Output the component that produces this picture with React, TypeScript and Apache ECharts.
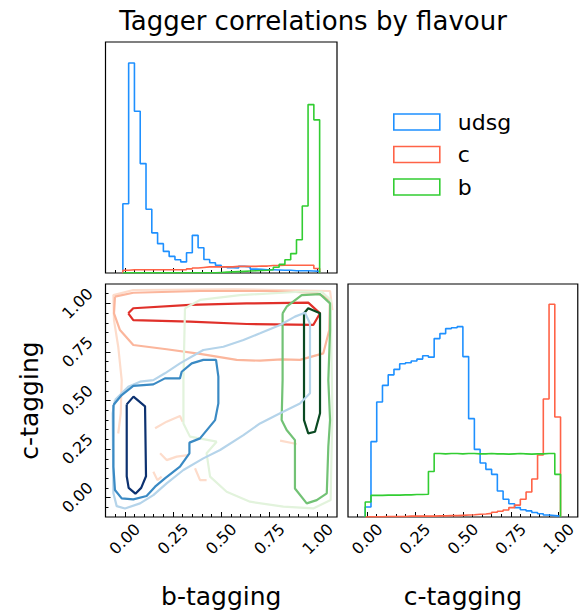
import React, { useEffect, useRef } from 'react';
import * as echarts from 'echarts';

// ---------- 1D histogram data (density, 34 bins) ----------
const BIN_START = -0.01;
const BIN_WIDTH = 0.03;

const bTagUdsg = [2.50, 7.58, 5.84, 3.95, 2.30, 1.45, 1.06, 0.78, 0.60, 0.48, 0.40, 0.73, 1.36, 0.91, 0.49, 0.37, 0.28, 0.22, 0.19, 0.18, 0.24, 0.22, 0.14, 0.13, 0.12, 0.12, 0.11, 0.10, 0.10, 0.08, 0.08, 0.08, 0.07, 0.06];
const bTagC = [0.10, 0.12, 0.12, 0.12, 0.12, 0.12, 0.12, 0.12, 0.12, 0.12, 0.12, 0.15, 0.18, 0.20, 0.22, 0.22, 0.22, 0.22, 0.22, 0.24, 0.24, 0.24, 0.24, 0.25, 0.25, 0.27, 0.27, 0.28, 0.28, 0.28, 0.28, 0.28, 0.28, 0.16];
const bTagB = [0.01, 0.01, 0.01, 0.01, 0.01, 0.01, 0.01, 0.01, 0.01, 0.01, 0.01, 0.01, 0.01, 0.01, 0.01, 0.01, 0.02, 0.03, 0.04, 0.05, 0.06, 0.07, 0.08, 0.09, 0.10, 0.12, 0.21, 0.31, 0.48, 0.70, 1.20, 2.42, 6.08, 5.53];

const cTagUdsg = [0.36, 2.72, 4.15, 4.75, 5.13, 5.33, 5.53, 5.57, 5.63, 5.70, 5.82, 5.77, 6.44, 6.62, 6.80, 6.83, 6.87, 5.79, 3.55, 2.44, 1.95, 1.72, 1.54, 0.94, 0.64, 0.48, 0.34, 0.26, 0.22, 0.16, 0.12, 0.07, 0.05, 0.03];
const cTagC = [0.01, 0.01, 0.01, 0.02, 0.02, 0.02, 0.02, 0.03, 0.03, 0.03, 0.03, 0.03, 0.04, 0.04, 0.05, 0.05, 0.06, 0.07, 0.08, 0.10, 0.11, 0.13, 0.17, 0.21, 0.25, 0.34, 0.43, 0.64, 0.90, 1.37, 2.24, 4.26, 7.68, 3.61];
const cTagB = [0.54, 0.78, 0.78, 0.79, 0.79, 0.79, 0.80, 0.80, 0.81, 0.81, 0.82, 1.64, 2.29, 2.28, 2.29, 2.29, 2.28, 2.29, 2.29, 2.28, 2.28, 2.29, 2.28, 2.28, 2.27, 2.28, 2.29, 2.28, 2.27, 2.28, 2.28, 2.29, 2.29, 1.54];

// ---------- 2D contour lines (x = b-tagging, y = c-tagging) ----------
const udsgInner = [[0.01, 0.48], [0.045, 0.52], [0.105, 0.47], [0.11, 0.11], [0.085, 0.05], [0.055, 0.02], [0.02, 0.05], [0.01, 0.11], [0.01, 0.48]];
const udsgMid = [[-0.059, 0.477], [-0.016, 0.528], [0.044, 0.575], [0.148, 0.583], [0.208, 0.614], [0.286, 0.614], [0.295, 0.648], [0.347, 0.691], [0.407, 0.709], [0.473, 0.709], [0.485, 0.623], [0.485, 0.485], [0.468, 0.399], [0.39, 0.305], [0.335, 0.283], [0.335, 0.228], [0.286, 0.159], [0.208, 0.099], [0.157, 0.056], [0.113, 0.008], [0.044, -0.009], [-0.016, -0.004], [-0.051, 0.039], [-0.059, 0.159], [-0.059, 0.477]];
const udsgOuter = [[-0.051, 0.502], [0.018, 0.571], [0.079, 0.597], [0.148, 0.605], [0.208, 0.64], [0.286, 0.691], [0.407, 0.76], [0.511, 0.777], [0.615, 0.812], [0.701, 0.846], [0.805, 0.889], [0.882, 0.932], [0.934, 0.952], [0.96, 0.897], [0.96, 0.537], [0.908, 0.485], [0.805, 0.434], [0.701, 0.382], [0.615, 0.322], [0.494, 0.245], [0.407, 0.202], [0.304, 0.142], [0.217, 0.073], [0.148, 0.013], [0.079, -0.03], [0.001, -0.056], [-0.042, -0.044], [-0.059, 0.022], [-0.063, 0.434], [-0.051, 0.502]];

const cInner = [[0.018, 0.949], [0.044, 0.975], [0.338, 0.992], [0.632, 1.0], [0.951, 1.004], [1.012, 0.949], [0.977, 0.889], [0.632, 0.894], [0.338, 0.906], [0.044, 0.914], [0.018, 0.949]];
const cMid = [[-0.051, 1.035], [0.044, 1.055], [0.39, 1.064], [0.736, 1.064], [0.995, 1.055], [1.064, 1.018], [1.06, 0.863], [1.029, 0.743], [0.908, 0.709], [0.813, 0.712], [0.701, 0.705], [0.58, 0.709], [0.39, 0.74], [0.217, 0.764], [0.044, 0.786], [-0.025, 0.863], [-0.056, 0.949], [-0.051, 1.035]];
const cOuterMain = [[-0.034, 0.33], [-0.021, 0.434], [-0.016, 0.605], [-0.034, 0.777], [-0.056, 0.914], [-0.059, 1.043], [0.044, 1.069], [0.563, 1.073], [1.064, 1.064], [1.076, 0.966]];
const cOuterPiece1 = [[0.157, 0.357], [0.217, 0.391], [0.286, 0.42], [0.3, 0.391]];
const cOuterPiece2 = [[0.183, 0.228], [0.217, 0.193], [0.269, 0.211], [0.329, 0.219]];
const cOuterPiece3 = [[0.148, 0.133], [0.169, 0.09], [0.191, 0.108]];
const cOuterPiece4 = [[0.364, 0.151], [0.39, 0.09], [0.424, 0.09]];
const cOuterPiece5 = [[0.805, 0.293], [0.891, 0.276]];

const bInner = [[0.929, 0.949], [0.951, 0.975], [1.012, 0.949], [1.012, 0.434], [0.986, 0.339], [0.951, 0.331], [0.929, 0.399], [0.929, 0.949]];
const bMid = [[0.818, 0.949], [0.839, 0.983], [0.917, 1.043], [1.012, 1.048], [1.064, 1.0], [1.064, 0.863], [1.055, 0.605], [1.064, 0.399], [1.055, 0.262], [1.047, 0.022], [0.995, -0.013], [0.943, -0.03], [0.882, 0.047], [0.882, 0.296], [0.839, 0.348], [0.813, 0.399], [0.818, 0.605], [0.818, 0.949]];
const bOuter = [[0.312, 0.975], [0.39, 1.018], [0.597, 1.043], [0.908, 1.06], [1.021, 1.06], [1.067, 1.018], [1.076, 0.434], [1.067, -0.013], [0.977, -0.056], [0.822, -0.047], [0.649, -0.021], [0.528, 0.03], [0.442, 0.108], [0.424, 0.228], [0.476, 0.288], [0.338, 0.314], [0.304, 0.382], [0.304, 0.605], [0.312, 0.975]];

// ---------- ticks ----------
const majorTicks = [0, 0.25, 0.5, 0.75, 1.0];
const minorTicks = [-0.05, 0.05, 0.1, 0.15, 0.2, 0.3, 0.35, 0.4, 0.45, 0.55, 0.6, 0.65, 0.7, 0.8, 0.85, 0.9, 0.95, 1.05];

const COLORS = { udsg: '#1E90FF', c: '#FF6347', b: '#32CD32' };
const FONT = 'DejaVu Sans';

function stepPoints(vals: number[]) {
  const pts: number[][] = [];
  const edge = (i: number) => +(BIN_START + i * BIN_WIDTH).toFixed(4);
  pts.push([edge(0), 0]);
  vals.forEach((v, i) => {
    pts.push([edge(i), v]);
    pts.push([edge(i + 1), v]);
  });
  pts.push([edge(vals.length), 0]);
  return pts;
}

const noLine = { show: false, onZero: false };

function xAxisPair(gridIndex: number, withLabels: boolean, name?: string) {
  const base = {
    type: 'value', gridIndex, min: -0.1, max: 1.1, position: 'bottom',
    axisLine: noLine, splitLine: { show: false },
  };
  return [
    {
      ...base,
      name: name || '',
      nameLocation: 'middle',
      nameGap: 79,
      nameTextStyle: { fontSize: 25, fontFamily: FONT, color: '#000', verticalAlign: 'middle' },
      axisTick: { show: true, inside: true, length: 5, customValues: majorTicks, lineStyle: { color: '#000', width: 1 } },
      axisLabel: withLabels ? {
        show: true, customValues: majorTicks, rotate: 45, align: 'center', verticalAlign: 'middle', margin: 22,
        fontSize: 16, fontFamily: FONT, color: '#000', formatter: (v: number) => v.toFixed(2),
      } : { show: false },
    },
    {
      ...base,
      axisTick: { show: true, inside: true, length: 3, customValues: minorTicks, lineStyle: { color: '#000', width: 1 } },
      axisLabel: { show: false },
    },
  ];
}

function histSeries(name: string, vals: number[], color: string, xi: number, yi: number) {
  return {
    type: 'line', name, xAxisIndex: xi, yAxisIndex: yi, data: stepPoints(vals),
    showSymbol: false, symbol: 'none', lineStyle: { color, width: 1.6 }, itemStyle: { color },
    silent: true, z: 3,
  };
}

function contourSeries(name: string, pts: number[][], color: string, width = 2.2) {
  return {
    type: 'line', name, xAxisIndex: 2, yAxisIndex: 1, data: pts,
    showSymbol: false, symbol: 'none', lineStyle: { color, width }, itemStyle: { color },
    silent: true, z: 3,
  };
}

export default function App() {
  const ref = useRef<HTMLDivElement>(null);
  useEffect(() => {
    const chart = echarts.init(ref.current!, null, { renderer: 'svg' });
    const option: any = {
      animation: false,
      backgroundColor: '#fff',
      title: {
        text: 'Tagger correlations by flavour',
        left: 308, top: 3, textAlign: 'center',
        textStyle: { fontSize: 26, fontWeight: 'normal', fontFamily: FONT, color: '#000' },
      },
      legend: {
        orient: 'vertical', left: 388, top: 106, itemWidth: 46, itemHeight: 16, itemGap: 10.5,
        icon: 'rect',
        textStyle: { fontSize: 22, fontFamily: FONT, color: '#000', padding: [0, 0, 0, 13] },
        data: [
          { name: 'udsg', itemStyle: { color: '#fff', borderColor: COLORS.udsg, borderWidth: 1.6 } },
          { name: 'c', itemStyle: { color: '#fff', borderColor: COLORS.c, borderWidth: 1.6 } },
          { name: 'b', itemStyle: { color: '#fff', borderColor: COLORS.b, borderWidth: 1.6 } },
        ],
      },
      grid: [
        { left: 105.5, top: 42, width: 231.5, height: 231, show: true, borderColor: '#000', borderWidth: 1.2, backgroundColor: 'transparent' },
        { left: 105.5, top: 284, width: 231.5, height: 233, show: true, borderColor: '#000', borderWidth: 1.2, backgroundColor: 'transparent' },
        { left: 348, top: 284, width: 231.5, height: 233, show: true, borderColor: '#000', borderWidth: 1.2, backgroundColor: 'transparent' },
      ],
      xAxis: [
        ...xAxisPair(0, false),
        ...xAxisPair(1, true, 'b-tagging'),
        ...xAxisPair(2, true, 'c-tagging'),
      ],
      yAxis: [
        { type: 'value', gridIndex: 0, min: 0, max: 8.34, show: false, axisLine: noLine, splitLine: { show: false } },
        {
          type: 'value', gridIndex: 1, min: -0.1, max: 1.1, position: 'left',
          name: 'c-tagging', nameLocation: 'middle', nameGap: 76,
          nameTextStyle: { fontSize: 25, fontFamily: FONT, color: '#000', verticalAlign: 'middle' },
          axisLine: noLine, splitLine: { show: false },
          axisTick: { show: true, inside: true, length: 5, customValues: majorTicks, lineStyle: { color: '#000', width: 1 } },
          axisLabel: {
            show: true, customValues: majorTicks, rotate: 45, align: 'center', verticalAlign: 'middle', margin: 28,
            fontSize: 16, fontFamily: FONT, color: '#000', formatter: (v: number) => v.toFixed(2),
          },
        },
        {
          type: 'value', gridIndex: 1, min: -0.1, max: 1.1, position: 'left',
          axisLine: noLine, splitLine: { show: false },
          axisTick: { show: true, inside: true, length: 3, customValues: minorTicks, lineStyle: { color: '#000', width: 1 } },
          axisLabel: { show: false },
        },
        { type: 'value', gridIndex: 2, min: 0, max: 8.41, show: false, axisLine: noLine, splitLine: { show: false } },
      ],
      series: [
        histSeries('udsg', bTagUdsg, COLORS.udsg, 0, 0),
        histSeries('c', bTagC, COLORS.c, 0, 0),
        histSeries('b', bTagB, COLORS.b, 0, 0),
        histSeries('udsg', cTagUdsg, COLORS.udsg, 4, 3),
        histSeries('c', cTagC, COLORS.c, 4, 3),
        histSeries('b', cTagB, COLORS.b, 4, 3),
        contourSeries('c outer', cOuterMain, '#FDDCCB'),
        contourSeries('c outer 1', cOuterPiece1, '#FDDCCB'),
        contourSeries('c outer 2', cOuterPiece2, '#FDDCCB'),
        contourSeries('c outer 3', cOuterPiece3, '#FDDCCB'),
        contourSeries('c outer 4', cOuterPiece4, '#FDDCCB'),
        contourSeries('c outer 5', cOuterPiece5, '#FDDCCB'),
        contourSeries('c mid', cMid, '#FBB69C'),
        contourSeries('c inner', cInner, '#E0302A'),
        contourSeries('b outer', bOuter, '#E2F3DC'),
        contourSeries('b mid', bMid, '#72C275'),
        contourSeries('b inner', bInner, '#0A4A22'),
        contourSeries('udsg outer', udsgOuter, '#B5D4EA'),
        contourSeries('udsg mid', udsgMid, '#3A8AC4'),
        contourSeries('udsg inner', udsgInner, '#0C3170'),
      ],
    };
    chart.setOption(option);
    return () => chart.dispose();
  }, []);
  return <div ref={ref} style={{ position: 'absolute', left: 0, top: 0, width: 579, height: 613 }} />;
}
